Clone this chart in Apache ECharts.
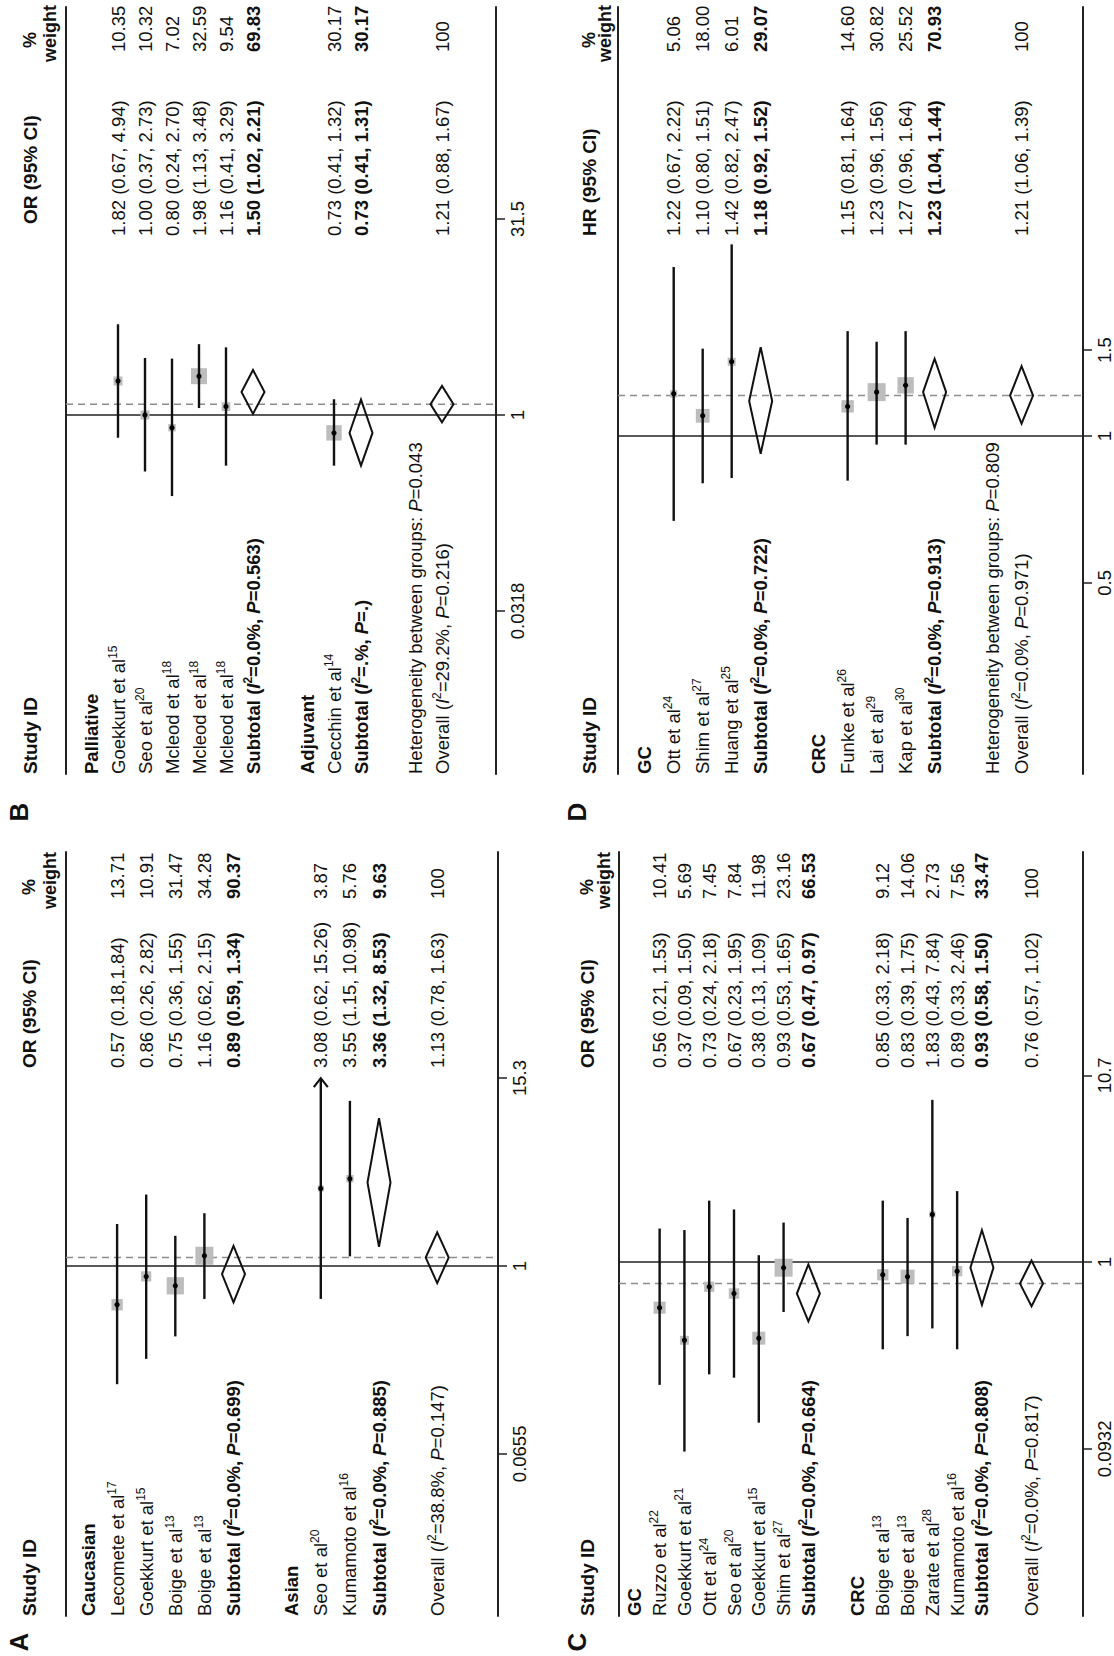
<!DOCTYPE html>
<html>
<head>
<meta charset="utf-8">
<script src="https://cdn.jsdelivr.net/npm/echarts@6/dist/echarts.min.js"></script>
<style>
html,body{margin:0;padding:0;background:#fff;}
#chart{width:1114px;height:1656px;}
</style>
</head>
<body>
<div id="chart"></div>
<script>
// ---------------- Panel A ----------------
const A_groups = ['Caucasian', 'Asian'];
const A_study = ['Lecomete et al', 'Goekkurt et al', 'Boige et al', 'Boige et al', 'Seo et al', 'Kumamoto et al'];
const A_ref = ['17', '15', '13', '13', '20', '16'];
const A_group = [0, 0, 0, 0, 1, 1];
const A_est = [0.57, 0.86, 0.75, 1.16, 3.08, 3.55];
const A_lo = [0.18, 0.26, 0.36, 0.62, 0.62, 1.15];
const A_hi = [1.84, 2.82, 1.55, 2.15, 15.26, 10.98];
const A_weight = [13.71, 10.91, 31.47, 34.28, 3.87, 5.76];
const A_ciSep = [',', ', ', ', ', ', ', ', ', ', '];
const A_arrow = [0, 0, 0, 0, 1, 0];
const A_subEst = [0.89, 3.36];
const A_subLo = [0.59, 1.32];
const A_subHi = [1.34, 8.53];
const A_subWeight = [90.37, 9.63];
const A_subI2 = ['0.0%', '0.0%'];
const A_subP = ['0.699', '0.885'];
const A_overall = [1.13, 0.78, 1.63];
const A_overallStats = ['38.8%', '0.147'];
const A_hetP = null;
const A_ticks = [0.0655, 1, 15.3];

// ---------------- Panel B ----------------
const B_groups = ['Palliative', 'Adjuvant'];
const B_study = ['Goekkurt et al', 'Seo et al', 'Mcleod et al', 'Mcleod et al', 'Mcleod et al', 'Cecchin et al'];
const B_ref = ['15', '20', '18', '18', '18', '14'];
const B_group = [0, 0, 0, 0, 0, 1];
const B_est = [1.82, 1.00, 0.80, 1.98, 1.16, 0.73];
const B_lo = [0.67, 0.37, 0.24, 1.13, 0.41, 0.41];
const B_hi = [4.94, 2.73, 2.70, 3.48, 3.29, 1.32];
const B_weight = [10.35, 10.32, 7.02, 32.59, 9.54, 30.17];
const B_subEst = [1.50, 0.73];
const B_subLo = [1.02, 0.41];
const B_subHi = [2.21, 1.31];
const B_subWeight = [69.83, 30.17];
const B_subI2 = ['0.0%', '.%'];
const B_subP = ['0.563', '.'];
const B_overall = [1.21, 0.88, 1.67];
const B_overallStats = ['29.2%', '0.216'];
const B_hetP = '0.043';
const B_ticks = [0.0318, 1, 31.5];

// ---------------- Panel C ----------------
const C_groups = ['GC', 'CRC'];
const C_study = ['Ruzzo et al', 'Goekkurt et al', 'Ott et al', 'Seo et al', 'Goekkurt et al', 'Shim et al',
                 'Boige et al', 'Boige et al', 'Zarate et al', 'Kumamoto et al'];
const C_ref = ['22', '21', '24', '20', '15', '27', '13', '13', '28', '16'];
const C_group = [0, 0, 0, 0, 0, 0, 1, 1, 1, 1];
const C_est = [0.56, 0.37, 0.73, 0.67, 0.38, 0.93, 0.85, 0.83, 1.83, 0.89];
const C_lo = [0.21, 0.09, 0.24, 0.23, 0.13, 0.53, 0.33, 0.39, 0.43, 0.33];
const C_hi = [1.53, 1.50, 2.18, 1.95, 1.09, 1.65, 2.18, 1.75, 7.84, 2.46];
const C_weight = [10.41, 5.69, 7.45, 7.84, 11.98, 23.16, 9.12, 14.06, 2.73, 7.56];
const C_subEst = [0.67, 0.93];
const C_subLo = [0.47, 0.58];
const C_subHi = [0.97, 1.50];
const C_subWeight = [66.53, 33.47];
const C_subI2 = ['0.0%', '0.0%'];
const C_subP = ['0.664', '0.808'];
const C_overall = [0.76, 0.57, 1.02];
const C_overallStats = ['0.0%', '0.817'];
const C_hetP = null;
const C_ticks = [0.0932, 1, 10.7];

// ---------------- Panel D ----------------
const D_groups = ['GC', 'CRC'];
const D_study = ['Ott et al', 'Shim et al', 'Huang et al', 'Funke et al', 'Lai et al', 'Kap et al'];
const D_ref = ['24', '27', '25', '26', '29', '30'];
const D_group = [0, 0, 0, 1, 1, 1];
const D_est = [1.22, 1.10, 1.42, 1.15, 1.23, 1.27];
const D_lo = [0.67, 0.80, 0.82, 0.81, 0.96, 0.96];
const D_hi = [2.22, 1.51, 2.47, 1.64, 1.56, 1.64];
const D_weight = [5.06, 18.00, 6.01, 14.60, 30.82, 25.52];
const D_subEst = [1.18, 1.23];
const D_subLo = [0.92, 1.04];
const D_subHi = [1.52, 1.44];
const D_subWeight = [29.07, 70.93];
const D_subI2 = ['0.0%', '0.0%'];
const D_subP = ['0.722', '0.913'];
const D_overall = [1.21, 1.06, 1.39];
const D_overallStats = ['0.0%', '0.971'];
const D_hetP = '0.809';
const D_ticks = [0.5, 1, 1.5];

// ---------------- layout (pixels, rotated page) ----------------
const LAYOUT = {
  B: {left: 66, right: 496, top: 7, bottom: 774, row0: 91, step: 27.0, nullY: 415, ppd: 130.8,
      ciStart: 236, ciHdr: 224, wtStart: 52, wtHdr: 62, pctY: 40, hdrX: 30, hdr2X: 50,
      letterX: 19, letterY: 812, box: 16},
  D: {left: 618, right: 1088, top: 7, bottom: 774, row0: 645, step: 29.3, nullY: 436, ppd: 488,
      ciStart: 236, ciHdr: 236, wtStart: 52, wtHdr: 62, pctY: 40, hdrX: 589, hdr2X: 605,
      letterX: 577, letterY: 812, box: 18},
  A: {left: 66, right: 498, top: 852, bottom: 1616, row0: 88, step: 29.1, nullY: 1266, ppd: 158.7,
      ciStart: 1068, ciHdr: 1068, wtStart: 899, wtHdr: 909, pctY: 887, hdrX: 29, hdr2X: 50,
      letterX: 19, letterY: 1642, box: 18},
  C: {left: 619, right: 1088, top: 852, bottom: 1616, row0: 635, step: 25.06, nullY: 1262, ppd: 181.3,
      ciStart: 1068, ciHdr: 1068, wtStart: 899, wtHdr: 909, pctY: 887, hdrX: 587, hdr2X: 604,
      letterX: 577, letterY: 1642, box: 18}
};

const FONT = '"Liberation Sans", Arial, Helvetica, sans-serif';
const FS = 18.5;
const FSH = 19;
const TXT = '#111';
const BOX = '#bdbdbd';
const ROT = Math.PI / 2;
const LH = 23;

const RICH = {
  n:  {fontSize: FS, fontFamily: FONT, fill: TXT, lineHeight: LH},
  ni: {fontSize: FS, fontFamily: FONT, fill: TXT, lineHeight: LH, fontStyle: 'italic'},
  s:  {fontSize: 12, fontFamily: FONT, fill: TXT, verticalAlign: 'top'},
  b:  {fontSize: FS, fontFamily: FONT, fill: TXT, lineHeight: LH, fontWeight: 'bold'},
  bi: {fontSize: FS, fontFamily: FONT, fill: TXT, lineHeight: LH, fontWeight: 'bold', fontStyle: 'italic'},
  bs: {fontSize: 12, fontFamily: FONT, fill: TXT, verticalAlign: 'top', fontWeight: 'bold'}
};

const PANELS = [
  {id: 'B', es: 'OR', groups: B_groups, study: B_study, ref: B_ref, group: B_group, est: B_est, lo: B_lo, hi: B_hi,
   weight: B_weight, sep: null, arrow: null, subEst: B_subEst, subLo: B_subLo, subHi: B_subHi, subWeight: B_subWeight,
   subI2: B_subI2, subP: B_subP, overall: B_overall, overallStats: B_overallStats, hetP: B_hetP, ticks: B_ticks},
  {id: 'D', es: 'HR', groups: D_groups, study: D_study, ref: D_ref, group: D_group, est: D_est, lo: D_lo, hi: D_hi,
   weight: D_weight, sep: null, arrow: null, subEst: D_subEst, subLo: D_subLo, subHi: D_subHi, subWeight: D_subWeight,
   subI2: D_subI2, subP: D_subP, overall: D_overall, overallStats: D_overallStats, hetP: D_hetP, ticks: D_ticks},
  {id: 'A', es: 'OR', groups: A_groups, study: A_study, ref: A_ref, group: A_group, est: A_est, lo: A_lo, hi: A_hi,
   weight: A_weight, sep: A_ciSep, arrow: A_arrow, subEst: A_subEst, subLo: A_subLo, subHi: A_subHi, subWeight: A_subWeight,
   subI2: A_subI2, subP: A_subP, overall: A_overall, overallStats: A_overallStats, hetP: A_hetP, ticks: A_ticks},
  {id: 'C', es: 'OR', groups: C_groups, study: C_study, ref: C_ref, group: C_group, est: C_est, lo: C_lo, hi: C_hi,
   weight: C_weight, sep: null, arrow: null, subEst: C_subEst, subLo: C_subLo, subHi: C_subHi, subWeight: C_subWeight,
   subI2: C_subI2, subP: C_subP, overall: C_overall, overallStats: C_overallStats, hetP: C_hetP, ticks: C_ticks}
];

const grid = [], xAxis = [], yAxis = [], series = [], graphic = [];

function ciText(e, l, h, sep) {
  return e.toFixed(2) + ' (' + l.toFixed(2) + (sep || ', ') + h.toFixed(2) + ')';
}

function gText(x, y, text, weight, align, size) {
  return {
    type: 'text', x: x, y: y, rotation: ROT, silent: true,
    style: {
      text: text, font: weight + ' ' + (size || FSH) + 'px ' + FONT, fill: TXT,
      align: align, verticalAlign: 'middle', textAlign: align, textVerticalAlign: 'middle'
    }
  };
}

PANELS.forEach(function (P, gi) {
  const L = LAYOUT[P.id];
  const gw = L.right - L.left, gh = L.bottom - L.top;
  const xMin = -(L.row0 - L.left) / L.step;
  const xMax = xMin + gw / L.step;
  const yMin = (L.nullY - L.bottom) / L.ppd;
  const yMax = (L.nullY - L.top) / L.ppd;
  const tickVals = P.ticks.map(function (t) { return Math.log10(t); });
  const maxW = Math.max.apply(null, P.weight);

  // rows of the forest plot
  const rows = [];
  P.groups.forEach(function (g, g_i) {
    rows.push({t: 'group', g: g_i});
    P.study.forEach(function (s, i) { if (P.group[i] === g_i) rows.push({t: 'study', i: i}); });
    rows.push({t: 'sub', g: g_i});
    rows.push({t: 'blank'});
  });
  if (P.hetP !== null) rows.push({t: 'het'});
  rows.push({t: 'overall'});

  grid.push({left: L.left, top: L.top, width: gw, height: gh, containLabel: false});
  xAxis.push({gridIndex: gi, type: 'value', min: xMin, max: xMax, show: false, splitLine: {show: false}});
  yAxis.push({
    gridIndex: gi, type: 'value', position: 'right', min: yMin, max: yMax,
    axisLine: {show: true, onZero: false, lineStyle: {color: '#222', width: 2}},
    axisTick: {show: true, customValues: tickVals, length: 9, lineStyle: {color: '#222', width: 1.5}},
    axisLabel: {
      show: true, customValues: tickVals, rotate: 90, margin: 12, color: TXT, fontSize: FS, fontFamily: FONT,
      formatter: function (v) {
        const i = tickVals.findIndex(function (t) { return Math.abs(t - v) < 1e-6; });
        return i >= 0 ? String(P.ticks[i]) : '';
      }
    },
    splitLine: {show: false}
  });
  yAxis.push({
    gridIndex: gi, type: 'value', position: 'left', min: yMin, max: yMax,
    axisLine: {show: true, onZero: false, lineStyle: {color: '#222', width: 2}},
    axisTick: {show: false}, axisLabel: {show: false}, splitLine: {show: false}
  });

  // null line and overall dashed line
  series.push({
    type: 'custom', xAxisIndex: gi, yAxisIndex: 2 * gi, silent: true, clip: false,
    data: [[0, 0]],
    renderItem: function (params, api) {
      const a = api.coord([xMin, 0]), b = api.coord([xMax, 0]);
      const o = api.coord([xMin, Math.log10(P.overall[0])]);
      return {type: 'group', children: [
        {type: 'line', shape: {x1: a[0], y1: a[1], x2: b[0], y2: b[1]}, style: {stroke: '#222', lineWidth: 1.6}},
        {type: 'line', shape: {x1: o[0], y1: o[1], x2: b[0], y2: o[1]},
         style: {stroke: '#8c8c8c', lineWidth: 1.5, lineDash: [7, 5]}}
      ]};
    }
  });

  // rows: markers + texts
  series.push({
    type: 'custom', xAxisIndex: gi, yAxisIndex: 2 * gi, silent: true, clip: false,
    data: rows.map(function (r, k) { return [k, 0]; }),
    renderItem: function (params, api) {
      const k = params.dataIndex, r = rows[k];
      const x = api.coord([k, 0])[0];
      const yv = function (v) { return api.coord([k, Math.log10(v)])[1]; };
      const ch = [];
      const T = function (y, text) {
        ch.push({type: 'text', x: x, y: y, rotation: ROT,
          style: {text: text, rich: RICH, fontSize: FS, fontFamily: FONT, fill: TXT,
                  align: 'left', verticalAlign: 'middle'}});
      };
      const diamond = function (e, l, h) {
        const hw = 11.5;
        ch.push({type: 'polygon', shape: {points: [[x, yv(l)], [x + hw, yv(e)], [x, yv(h)], [x - hw, yv(e)]]},
                 style: {fill: 'none', stroke: '#111', lineWidth: 2}});
      };
      if (r.t === 'group') {
        T(L.bottom, '{b|' + P.groups[r.g] + '}');
      } else if (r.t === 'study') {
        const i = r.i;
        const ylo = yv(P.lo[i]), yhi = yv(P.hi[i]), yes = yv(P.est[i]);
        const side = L.box * Math.sqrt(P.weight[i] / maxW);
        ch.push({type: 'rect', shape: {x: x - side / 2, y: yes - side / 2, width: side, height: side}, style: {fill: BOX}});
        ch.push({type: 'line', shape: {x1: x, y1: ylo, x2: x, y2: yhi}, style: {stroke: '#111', lineWidth: 2.4}});
        ch.push({type: 'circle', shape: {cx: x, cy: yes, r: 2.6}, style: {fill: '#000'}});
        if (P.arrow && P.arrow[i]) {
          ch.push({type: 'polyline', shape: {points: [[x - 7, yhi + 9], [x, yhi], [x + 7, yhi + 9]]},
                   style: {stroke: '#111', lineWidth: 2.2, fill: 'none'}});
        }
        T(L.bottom, '{n|' + P.study[i] + '}{s|' + P.ref[i] + '}');
        T(L.ciStart, '{n|' + ciText(P.est[i], P.lo[i], P.hi[i], P.sep ? P.sep[i] : null) + '}');
        T(L.wtStart, '{n|' + P.weight[i].toFixed(2) + '}');
      } else if (r.t === 'sub') {
        const g = r.g;
        diamond(P.subEst[g], P.subLo[g], P.subHi[g]);
        T(L.bottom, '{b|Subtotal (}{bi|I}{bs|2}{b|=' + P.subI2[g] + ', }{bi|P}{b|=' + P.subP[g] + ')}');
        T(L.ciStart, '{b|' + ciText(P.subEst[g], P.subLo[g], P.subHi[g]) + '}');
        T(L.wtStart, '{b|' + P.subWeight[g].toFixed(2) + '}');
      } else if (r.t === 'het') {
        T(L.bottom, '{n|Heterogeneity between groups: }{ni|P}{n|=' + P.hetP + '}');
      } else if (r.t === 'overall') {
        diamond(P.overall[0], P.overall[1], P.overall[2]);
        T(L.bottom, '{n|Overall (}{ni|I}{s|2}{n|=' + P.overallStats[0] + ', }{ni|P}{n|=' + P.overallStats[1] + ')}');
        T(L.ciStart, '{n|' + ciText(P.overall[0], P.overall[1], P.overall[2]) + '}');
        T(L.wtStart, '{n|100}');
      }
      return {type: 'group', children: ch};
    }
  });

  // header row and panel letter
  graphic.push(gText(L.hdrX, L.bottom, 'Study ID', 'bold', 'left'));
  graphic.push(gText(L.hdrX, L.ciHdr, P.es + ' (95% CI)', 'bold', 'left'));
  graphic.push(gText(L.hdrX, L.pctY, '%', 'bold', 'center', 18));
  graphic.push(gText(L.hdr2X, L.wtHdr, 'weight', 'bold', 'left', 18));
  graphic.push(gText(L.letterX, L.letterY, P.id, 'bold', 'center', 26));
});

const chart = echarts.init(document.getElementById('chart'), null, {renderer: 'svg', width: 1114, height: 1656});
chart.setOption({
  animation: false,
  backgroundColor: '#fff',
  grid: grid,
  xAxis: xAxis,
  yAxis: yAxis,
  series: series,
  graphic: graphic
});
</script>
</body>
</html>
